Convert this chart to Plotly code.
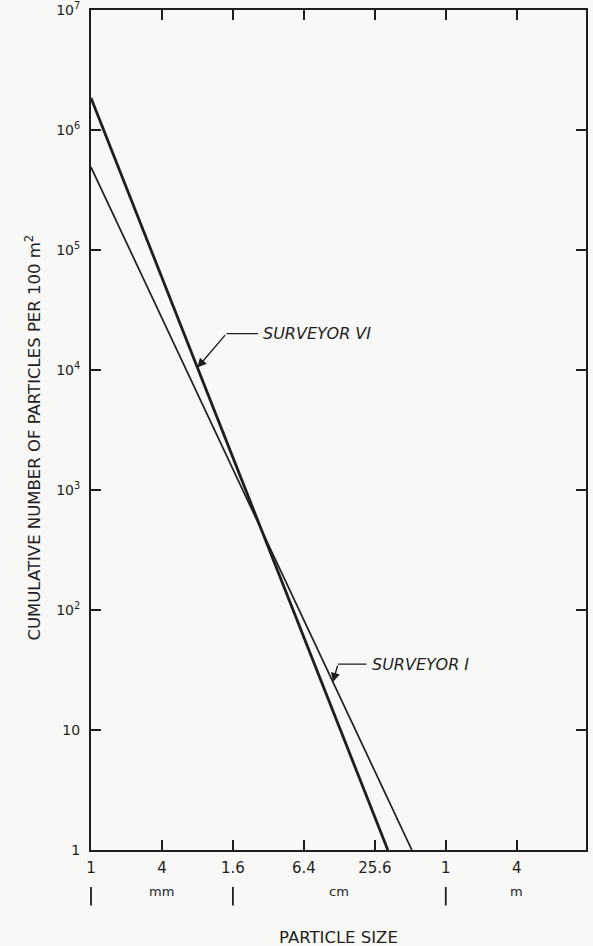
import numpy as np
import plotly.graph_objects as go

# ---- data ----
size_tick_mm = [1, 4, 16, 64, 256, 1024, 4096]
size_tick_labels = ["1", "4", "1.6", "6.4", "25.6", "1", "4"]
count_tick_vals = [1, 10, 100, 1e3, 1e4, 1e5, 1e6, 1e7]
count_tick_labels = ["1", "10", "10<sup>2</sup>", "10<sup>3</sup>", "10<sup>4</sup>",
                     "10<sup>5</sup>", "10<sup>6</sup>", "10<sup>7</sup>"]

surveyor6_size_mm = [1, 330]
surveyor6_count = [1.85e6, 1]
surveyor1_size_mm = [1, 528]
surveyor1_count = [4.9e5, 1]

unit_labels = ["mm", "cm", "m"]
unit_label_mm = [4, 128, 4096]
unit_separator_mm = [1, 16, 1024]

callout_names = ["SURVEYOR VI", "SURVEYOR I"]
callout_size_mm = [8.0, 113]

INK = "#1e1e1e"
BG = "#f8f8f7"
FONT = "DejaVu Sans"


def count_on_line(sizes, counts, s):
    return 10 ** np.interp(np.log10(s), np.log10(sizes), np.log10(counts))


fig = go.Figure()
fig.add_trace(go.Scatter(x=surveyor1_size_mm, y=surveyor1_count, mode="lines",
                         line=dict(color=INK, width=1.7), showlegend=False))
fig.add_trace(go.Scatter(x=surveyor6_size_mm, y=surveyor6_count, mode="lines",
                         line=dict(color=INK, width=2.8), showlegend=False))

annotations = []

# callouts: (tip on line) -> elbow -> horizontal leader -> text
series = [(surveyor6_size_mm, surveyor6_count), (surveyor1_size_mm, surveyor1_count)]
elbow_offsets = [(29, 34), (5, 18)]
leader_len = [33, 30]
for name, s, (xs, ys), (dx, dy), L in zip(callout_names, callout_size_mm, series,
                                         elbow_offsets, leader_len):
    yv = count_on_line(xs, ys, s)
    lx, ly = np.log10(s), np.log10(yv)
    annotations.append(dict(x=lx, y=ly, xref="x", yref="y", text="", showarrow=True,
                            ax=dx, ay=-dy, arrowhead=2, arrowsize=1.3, arrowwidth=1.4,
                            arrowcolor=INK, standoff=0))
    annotations.append(dict(x=lx, y=ly, xref="x", yref="y", text="", showarrow=True,
                            xshift=dx, yshift=dy, ax=L, ay=0, arrowhead=0,
                            arrowwidth=1.4, arrowcolor=INK))
    annotations.append(dict(x=lx, y=ly, xref="x", yref="y", text="<i>%s</i>" % name,
                            showarrow=False, xshift=dx + L + 2, yshift=dy,
                            xanchor="left", yanchor="middle",
                            font=dict(family=FONT, size=16, color=INK)))

# unit row below the axis
for lab, pos in zip(unit_labels, unit_label_mm):
    annotations.append(dict(x=np.log10(pos), y=0, xref="x", yref="paper", text=lab,
                            showarrow=False, yshift=-41, yanchor="middle",
                            font=dict(family=FONT, size=13, color=INK)))
for pos in unit_separator_mm:
    annotations.append(dict(x=np.log10(pos), y=0, xref="x", yref="paper", text="",
                            showarrow=True, yshift=-37, ax=0, ay=20, arrowhead=0,
                            arrowwidth=1.8, arrowcolor=INK))

annotations.append(dict(x=0.5, y=0, xref="paper", yref="paper", text="PARTICLE SIZE",
                        showarrow=False, yshift=-87, yanchor="middle",
                        font=dict(family=FONT, size=16.5, color=INK)))
annotations.append(dict(x=0, y=0.491, xref="paper", yref="paper",
                        text="CUMULATIVE NUMBER OF PARTICLES PER 100 m<sup>2</sup>",
                        showarrow=False, xshift=-58, textangle=-90,
                        xanchor="center", yanchor="middle",
                        font=dict(family=FONT, size=16.5, color=INK)))

fig.update_layout(
    width=593, height=946,
    margin=dict(l=91, r=7, t=10, b=96, autoexpand=False),
    paper_bgcolor=BG, plot_bgcolor=BG,
    annotations=annotations,
    font=dict(family=FONT, color=INK),
)
fig.update_xaxes(type="log", range=[0, 4.2], tickvals=size_tick_mm, ticktext=size_tick_labels,
                 ticks="inside", ticklen=10, tickwidth=1.6, tickcolor=INK,
                 showline=True, linewidth=2, linecolor=INK, mirror="ticks",
                 showgrid=False, zeroline=False, ticklabelstandoff=3,
                 ticklabeloverflow="allow", automargin=False,
                 tickfont=dict(family=FONT, size=15, color=INK))
fig.update_yaxes(type="log", range=[0, 7], tickvals=count_tick_vals, ticktext=count_tick_labels,
                 ticks="inside", ticklen=10, tickwidth=1.6, tickcolor=INK,
                 showline=True, linewidth=2, linecolor=INK, mirror="ticks",
                 showgrid=False, zeroline=False, ticklabelstandoff=6,
                 ticklabeloverflow="allow", automargin=False,
                 tickfont=dict(family=FONT, size=14, color=INK))

# remove the browser's default 8 px body margin so the figure fills the window
fig.write_html("out.html",
               config={"displayModeBar": False},
               post_script="document.body.style.margin='0px';"
                           "document.body.style.overflow='hidden';")
